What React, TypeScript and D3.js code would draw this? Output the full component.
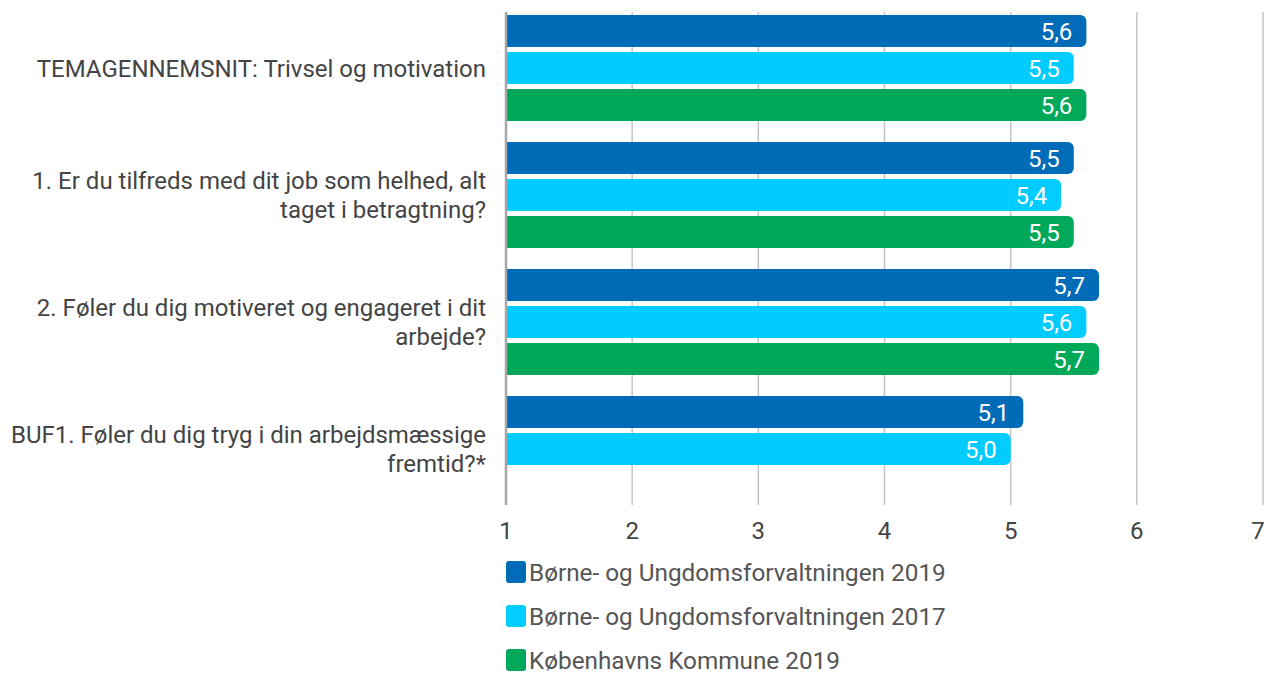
import * as d3 from "d3";
import { useEffect, useRef } from "react";

const categories = [
  ["TEMAGENNEMSNIT: Trivsel og motivation"],
  ["1. Er du tilfreds med dit job som helhed, alt", "taget i betragtning?"],
  ["2. Føler du dig motiveret og engageret i dit", "arbejde?"],
  ["BUF1. Føler du dig tryg i din arbejdsmæssige", "fremtid?*"],
];
const seriesNames = [
  "Børne- og Ungdomsforvaltningen 2019",
  "Børne- og Ungdomsforvaltningen 2017",
  "Københavns Kommune 2019",
];
const buf2019 = [5.6, 5.5, 5.7, 5.1];
const buf2017 = [5.5, 5.4, 5.6, 5.0];
const kk2019: (number | null)[] = [5.6, 5.5, 5.7, null];
const ticks = [1, 2, 3, 4, 5, 6, 7];
const colors = ["#006bb6", "#00ccff", "#00a85a"];

const W = 1267;
const H = 675;

export default function App() {
  const svgRef = useRef<SVGSVGElement | null>(null);

  useEffect(() => {
    const svg = d3.select(svgRef.current);
    svg.selectAll("*").remove();

    const font = "Roboto, sans-serif";
    const x = d3.scaleLinear().domain([1, 7]).range([506, 1263]);
    const y0 = d3
      .scaleBand<number>()
      .domain(d3.range(categories.length))
      .range([12, 520]);
    // bars inside a group: 3 slots of 32px, 5px gaps
    const y1 = d3
      .scaleBand<number>()
      .domain([0, 1, 2])
      .range([3, 109])
      .paddingInner(5 / 37);

    // grid
    svg
      .append("g")
      .selectAll("line")
      .data(ticks.slice(1))
      .join("line")
      .attr("x1", (d) => x(d))
      .attr("x2", (d) => x(d))
      .attr("y1", 12)
      .attr("y2", 505)
      .attr("stroke", "#c4c4c4")
      .attr("stroke-width", 1.5);

    const rows = [buf2019, buf2017, kk2019];
    const bars: { g: number; s: number; v: number }[] = [];
    rows.forEach((r, s) =>
      r.forEach((v, g) => {
        if (v != null) bars.push({ g, s, v });
      })
    );

    const r = 6;
    const barPath = (d: { g: number; s: number; v: number }) => {
      const x0 = x(1);
      const x1 = x(d.v);
      const top = y0(d.g)! + y1(d.s)!;
      const h = y1.bandwidth();
      return `M${x0},${top}H${x1 - r}A${r},${r} 0 0 1 ${x1},${top + r}V${top + h - r}A${r},${r} 0 0 1 ${x1 - r},${top + h}H${x0}Z`;
    };

    svg
      .append("g")
      .selectAll("path")
      .data(bars)
      .join("path")
      .attr("d", barPath)
      .attr("fill", (d) => colors[d.s]);

    svg
      .append("g")
      .selectAll("text")
      .data(bars)
      .join("text")
      .attr("x", (d) => x(d.v) - 14)
      .attr("y", (d) => y0(d.g)! + y1(d.s)! + y1.bandwidth() / 2)
      .attr("dy", "0.36em")
      .attr("text-anchor", "end")
      .attr("fill", "#fff")
      .style("font-family", font)
      .style("font-size", "24px")
      .text((d) => d3.format(".1f")(d.v).replace(".", ","));

    // axis line at 1
    svg
      .append("line")
      .attr("x1", x(1))
      .attr("x2", x(1))
      .attr("y1", 12)
      .attr("y2", 505)
      .attr("stroke", "#a6a6a6")
      .attr("stroke-width", 2.5);

    // tick labels
    svg
      .append("g")
      .selectAll("text")
      .data(ticks)
      .join("text")
      .attr("x", (d) => Math.min(x(d), 1258))
      .attr("y", 539)
      .attr("text-anchor", "middle")
      .attr("fill", "#444")
      .style("font-family", font)
      .style("font-size", "24px")
      .text((d) => d);

    // category labels
    const cat = svg
      .append("g")
      .selectAll("text")
      .data(categories)
      .join("text")
      .attr("text-anchor", "end")
      .attr("fill", "#444")
      .style("font-family", font)
      .style("font-size", "24px");
    cat.each(function (lines, i) {
      const cy = y0(i)! + 56;
      const t = d3.select(this);
      lines.forEach((ln, k) => {
        t.append("tspan")
          .attr("x", 486)
          .attr("y", cy + (k - (lines.length - 1) / 2) * 29)
          .attr("dy", "0.36em")
          .text(ln);
      });
    });

    // legend
    const leg = svg
      .append("g")
      .selectAll("g")
      .data(seriesNames)
      .join("g")
      .attr("transform", (_, i) => `translate(506,${571 + i * 44})`);
    leg
      .append("rect")
      .attr("x", 0)
      .attr("y", -10)
      .attr("width", 20)
      .attr("height", 22)
      .attr("rx", 3)
      .attr("fill", (_, i) => colors[i]);
    leg
      .append("text")
      .attr("x", 23)
      .attr("y", 1)
      .attr("dy", "0.36em")
      .attr("fill", "#555")
      .style("font-family", font)
      .style("font-size", "24.3px")
      .text((d) => d);
  }, []);

  return (
    <svg
      ref={svgRef}
      width={W}
      height={H}
      style={{ position: "absolute", left: 0, top: 0, background: "#fff" }}
    />
  );
}
